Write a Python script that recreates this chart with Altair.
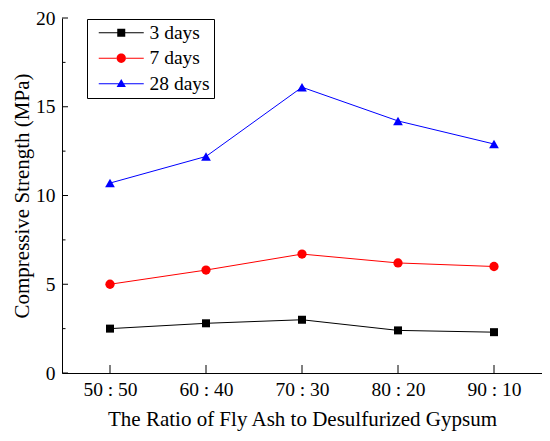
import altair as alt
import pandas as pd

ratios = ["50 : 50", "60 : 40", "70 : 30", "80 : 20", "90 : 10"]
series = ["3 days", "7 days", "28 days"]
days3 = [2.5, 2.8, 3.0, 2.4, 2.3]
days7 = [5.0, 5.8, 6.7, 6.2, 6.0]
days28 = [10.7, 12.2, 16.1, 14.2, 12.9]
colors = ["#000000", "#ff0000", "#0000ff"]
shapes = ["square", "circle", "triangle-up"]
marker_sizes = [64, 86, 95]
y_major = [0, 5, 10, 15, 20]
y_minor = [2.5, 7.5, 12.5, 17.5]

rows = []
for s, vals in zip(series, [days3, days7, days28]):
    for r, v in zip(ratios, vals):
        rows.append({"ratio": r, "series": s, "value": v})
df = pd.DataFrame(rows)

FONT = "Liberation Serif, Times New Roman, serif"
LFS = 19.5  # tick labels / legend
TFS = 21    # axis titles

# legend symbols: line segment with marker (unit coords, scaled by sqrt(size)/2)
leg_square = "M-0.4,-0.1H3.3V0.1H-0.4Z M4.9,-0.1H8.6V0.1H4.9Z M3.3,-0.8H4.9V0.8H3.3Z"
leg_circle = ("M-0.4,-0.1H3.2V0.1H-0.4Z M5.0,-0.1H8.6V0.1H5.0Z "
              "M3.17,0A0.93,0.93 0 1,0 5.03,0A0.93,0.93 0 1,0 3.17,0Z")
leg_tri = "M-0.4,-0.1H8.6V0.1H-0.4Z M4.1,-0.95L5.03,0.65H3.17Z"
legend_shapes = [leg_square, leg_circle, leg_tri]

x_scale = alt.Scale(type="point", padding=0.5)
y_scale = alt.Scale(domain=[0, 20], nice=False)
color_scale = alt.Scale(domain=series, range=colors)

x_axis = alt.Axis(title="The Ratio of Fly Ash to Desulfurized Gypsum",
                  labelAngle=0, tickSize=0, labelPadding=7, titlePadding=10)
y_axis = alt.Axis(title="Compressive Strength (MPa)", values=y_major,
                  tickSize=0, labelPadding=7, titlePadding=3)
x_enc = alt.X("ratio:N", sort=ratios, scale=x_scale, axis=x_axis)
y_enc = alt.Y("value:Q", scale=y_scale, axis=y_axis)

legend_props = dict(title=None, orient="none", legendX=25, legendY=1,
                    labelFont=FONT, labelFontSize=LFS, labelColor="black",
                    labelOffset=39, symbolSize=100, symbolStrokeWidth=0,
                    fillColor="white")

base = alt.Chart(df)

legend_layer = base.transform_filter("false").mark_point(
    filled=True, opacity=1, size=100, strokeWidth=0).encode(
    x=x_enc, y=y_enc,
    color=alt.Color("series:N", sort=series, scale=color_scale, legend=alt.Legend(**legend_props)),
    shape=alt.Shape("series:N", sort=series, scale=alt.Scale(domain=series, range=legend_shapes),
                    legend=alt.Legend(**legend_props)),
)

lines = base.mark_line(strokeWidth=1).encode(
    x=x_enc, y=y_enc, detail="series:N",
    color=alt.Color("series:N", sort=series, scale=color_scale))

point_layers = []
for s, c, sh, sz in zip(series, colors, shapes, marker_sizes):
    point_layers.append(
        base.transform_filter(alt.datum.series == s)
        .mark_point(filled=True, opacity=1, color=c, shape=sh, size=sz, strokeWidth=0)
        .encode(x=x_enc, y=y_enc))

ymaj = alt.Chart(pd.DataFrame({"value": y_major})).mark_rule(color="black", strokeWidth=1).encode(
    y=y_enc, x=alt.value(0), x2=alt.value(6))
ymin = alt.Chart(pd.DataFrame({"value": y_minor})).mark_rule(color="black", strokeWidth=1).encode(
    y=y_enc, x=alt.value(0), x2=alt.value(3.5))
xmaj = alt.Chart(pd.DataFrame({"ratio": ratios})).mark_rule(color="black", strokeWidth=1).encode(
    x=x_enc, y=alt.value(355), y2=alt.value(347))

chart = alt.layer(legend_layer, lines, *point_layers, ymaj, ymin, xmaj).properties(
    width=480, height=355,
    autosize=alt.AutoSizeParams(type="none"),
    padding={"left": 54, "top": 10, "right": 0, "bottom": 60},
).configure_view(stroke=None).configure_axis(
    labelFont=FONT, titleFont=FONT, labelFontSize=LFS, titleFontSize=TFS,
    labelColor="black", titleColor="black", titleFontWeight="normal",
    domainColor="black", domainWidth=1, grid=False,
).configure_legend(strokeColor="black", strokeWidth=1, padding=4, rowPadding=4.5,
                   labelFont=FONT, labelFontSize=LFS, labelColor="black")

chart.save("out.html", embed_options={"renderer": "svg", "actions": False})
